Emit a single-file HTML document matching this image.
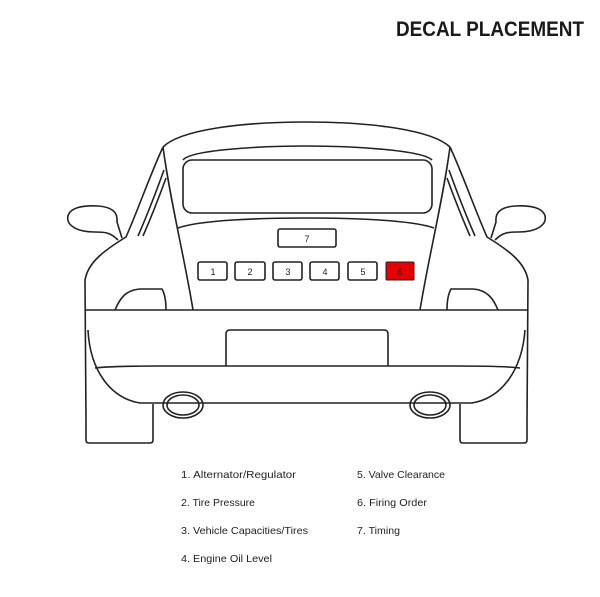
<!DOCTYPE html>
<html><head><style>
html,body{margin:0;padding:0;background:#fff;}
svg{display:block;}
text{font-family:"Liberation Sans",sans-serif;}
</style></head><body>
<svg width="600" height="597" viewBox="0 0 600 597" xmlns="http://www.w3.org/2000/svg">
<rect width="600" height="597" fill="#fff"/>
<text x="396" y="36" font-size="21" font-weight="bold" fill="#1a1a1a" textLength="188" lengthAdjust="spacingAndGlyphs">DECAL PLACEMENT</text>
<g fill="none" stroke="#222" stroke-width="1.6" stroke-linejoin="round">
<path d="M118,240 C110,232 104,232 95,232 C75,232 66,224 68,216 C70,208 82,205 98,206 C112,207 118,212 117,222 L122,238"/>
<path d="M495,240 C503,232 509,232 518,232 C538,232 547,224 545,216 C543,208 531,205 515,206 C501,207 495,212 496,222 L491,238"/>
<path d="M163,147 C180,130 240,122 306,122 C372,122 432,130 450,147"/>
<path d="M163,147 C170,200 185,260 193,310"/>
<path d="M450,147 C443,200 428,260 420,310"/>
<path d="M163,147 C150,175 138,210 126,237 C105,250 88,262 85,280 L86,420 L86,440 Q86,443 89,443 L150,443 Q153,443 153,440 L153,404"/>
<path d="M450,147 C463,175 475,210 487,237 C508,250 525,262 528,280 L527,420 L527,440 Q527,443 524,443 L463,443 Q460,443 460,440 L460,404"/>
<path d="M164,170 C155,195 145,220 138,236"/>
<path d="M166,178 C158,200 150,220 143,236"/>
<path d="M449,170 C458,195 468,220 475,236"/>
<path d="M447,178 C455,200 463,220 470,236"/>
<path d="M183,160 C190,150 260,146 306,146 C352,146 422,150 432,160"/>
<rect x="183" y="160" width="249" height="53" rx="9"/>
<path d="M178,228 C200,220 260,218 306,218 C352,218 412,220 434,228"/>
<path d="M86,310 L527,310"/>
<path d="M115,310 C120,298 126,290 140,289 L162,289 C166,296 166,305 166,310"/>
<path d="M498,310 C493,298 487,290 473,289 L451,289 C447,296 447,305 447,310"/>
<path d="M226,366 L226,334 Q226,330 230,330 L384,330 Q388,330 388,334 L388,366"/>
<path d="M95,368 C110,366 140,366 160,366 L454,366 C474,366 505,366 520,368"/>
<path d="M88,330 C90,370 110,398 140,403 L472,403 C502,398 522,370 525,330"/>
<ellipse cx="183" cy="405" rx="20" ry="13"/>
<ellipse cx="183" cy="405" rx="16" ry="10"/>
<ellipse cx="430" cy="405" rx="20" ry="13"/>
<ellipse cx="430" cy="405" rx="16" ry="10"/>
<rect x="278" y="229" width="58" height="18" rx="2"/>
<rect x="198" y="262" width="29" height="18" rx="2"/>
<rect x="235" y="262" width="30" height="18" rx="2"/>
<rect x="273" y="262" width="29" height="18" rx="2"/>
<rect x="310" y="262" width="29" height="18" rx="2"/>
<rect x="348" y="262" width="29" height="18" rx="2"/>
</g>
<rect x="386" y="262" width="28" height="18" rx="1" fill="#e60000" stroke="#222" stroke-width="1"/>
<g font-size="9" fill="#222" text-anchor="middle">
<text x="307" y="242">7</text>
<text x="213" y="275">1</text>
<text x="250" y="275">2</text>
<text x="288" y="275">3</text>
<text x="325" y="275">4</text>
<text x="363" y="275">5</text>
<text x="400" y="275">6</text>
</g>
<g font-size="10.5" fill="#222" lengthAdjust="spacingAndGlyphs">
<text x="181" y="478" textLength="115" lengthAdjust="spacingAndGlyphs">1. Alternator/Regulator</text>
<text x="181" y="506" textLength="74" lengthAdjust="spacingAndGlyphs">2. Tire Pressure</text>
<text x="181" y="534" textLength="127" lengthAdjust="spacingAndGlyphs">3. Vehicle Capacities/Tires</text>
<text x="181" y="562" textLength="91" lengthAdjust="spacingAndGlyphs">4. Engine Oil Level</text>
<text x="357" y="478" textLength="88" lengthAdjust="spacingAndGlyphs">5. Valve Clearance</text>
<text x="357" y="506" textLength="70" lengthAdjust="spacingAndGlyphs">6. Firing Order</text>
<text x="357" y="534" textLength="43" lengthAdjust="spacingAndGlyphs">7. Timing</text>
</g>
</svg>
</body></html>
